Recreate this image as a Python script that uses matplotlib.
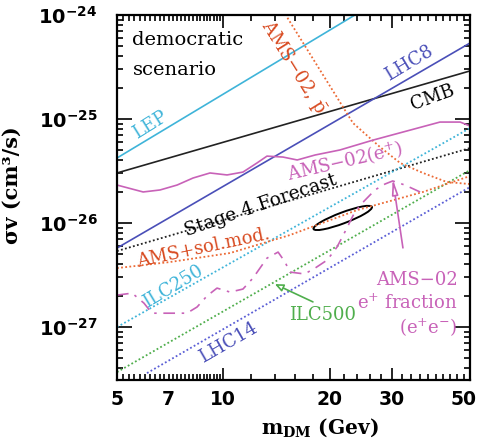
import numpy as np
import matplotlib.pyplot as plt
from matplotlib.patches import Ellipse
from matplotlib.ticker import FixedLocator, NullFormatter
from matplotlib.transforms import offset_copy

plt.rcParams['font.family'] = 'DejaVu Serif'
plt.rcParams['mathtext.fontset'] = 'custom'
plt.rcParams['mathtext.rm'] = 'DejaVu Serif'
plt.rcParams['mathtext.bf'] = 'DejaVu Sans:bold'
plt.rcParams['mathtext.sf'] = 'DejaVu Serif:bold'

# straight limits (mass in GeV, sigma v in cm^3/s)
lep_m = [5.0, 23.6]
lep_sv = [4.22e-26, 1.0e-24]
cmb_m = [5.0, 50.0]
cmb_sv = [3.03e-26, 2.90e-25]
lhc8_m = [5.0, 50.0]
lhc8_sv = [5.75e-27, 5.38e-25]
stage4_m = [5.0, 50.0]
stage4_sv = [5.38e-27, 5.26e-26]
ilc250_m = [5.0, 50.0]
ilc250_sv = [1.0e-27, 8.19e-26]
ilc500_m = [5.0, 50.0]
ilc500_sv = [3.69e-28, 3.23e-26]
lhc14_m = [6.08, 50.0]
lhc14_sv = [3.61e-28, 2.22e-26]

# antiproton limit
pbar_m = [15.2, 23.3, 27.8, 31.7, 36.8, 43.0, 50.0]
pbar_sv = [9.4e-25, 9.16e-26, 5.38e-26, 3.78e-26, 3.03e-26, 2.48e-26, 2.37e-26]

# AMS + solar modulation
solmod_m = [5.0, 7.06, 10.45, 15.45, 23.9, 36.8, 50.0]
solmod_sv = [3.69e-27, 4.22e-27, 5.15e-27, 7.67e-27, 1.33e-26, 1.99e-26, 2.83e-26]

# AMS-02 positron flux
epos_m = [5.0, 5.93, 6.62, 7.40, 8.21, 9.17, 10.25, 11.37, 12.46, 13.3,
          14.76, 16.2, 18.2, 21.4, 26.6, 33.1, 41.1, 46.9, 50.0]
epos_sv = [2.32e-26, 1.99e-26, 2.08e-26, 2.32e-26, 2.71e-26, 3.03e-26, 2.90e-26,
           3.09e-26, 3.78e-26, 4.40e-26, 4.31e-26, 4.04e-26, 4.51e-26, 5.04e-26,
           6.28e-26, 7.67e-26, 9.35e-26, 9.35e-26, 8.57e-26]

# AMS-02 positron fraction
efrac_m = [5.0, 5.52, 5.96, 6.28, 6.93, 7.89, 8.43, 8.99, 9.60, 10.45, 11.37,
           12.14, 13.3, 14.3, 14.96, 15.45, 17.0, 18.2, 19.7, 21.0, 22.1, 23.6,
           24.9, 26.9, 28.7, 30.2, 32.7, 36.1]
efrac_sv = [2.03e-27, 2.12e-27, 1.70e-27, 1.36e-27, 1.36e-27, 1.36e-27, 1.56e-27,
            1.99e-27, 2.37e-27, 2.17e-27, 2.32e-27, 2.96e-27, 4.60e-27, 5.26e-27,
            4.22e-27, 3.38e-27, 3.24e-27, 3.69e-27, 4.41e-27, 5.88e-27, 8.19e-27,
            1.28e-26, 1.59e-26, 2.08e-26, 2.37e-26, 2.54e-26, 2.32e-26, 1.99e-26]

# best-fit region
fit_m = 21.8
fit_sv = 1.12e-26

x_ticks = [5, 7, 10, 20, 30, 50]
x_labels = ['5', '7', '10', '20', '30', '50']
y_ticks = [1e-27, 1e-26, 1e-25, 1e-24]
y_labels = [r'$\mathbf{10^{-27}}$', r'$\mathbf{10^{-26}}$',
            r'$\mathbf{10^{-25}}$', r'$\mathbf{10^{-24}}$']

cyan = '#3fb4d9'
blue = '#4a4fb8'
orange = '#ec6a35'
orange_txt = '#d84a20'
magenta = '#c862b8'
green = '#4fae4c'
blue2 = '#5a5ed6'

fig = plt.figure(figsize=(4.79, 4.40), dpi=100)
ax = fig.add_axes([117 / 479, 60 / 440, 353 / 479, 365 / 440])
ax.set_xscale('log')
ax.set_yscale('log')

dots = (0, (1, 1.3))
ax.plot(lep_m, lep_sv, color=cyan, lw=1.2)
ax.plot(cmb_m, cmb_sv, color='#222222', lw=1.2)
ax.plot(lhc8_m, lhc8_sv, color=blue, lw=1.2)
ax.plot(stage4_m, stage4_sv, color='#222222', lw=1.3, ls=dots)
ax.plot(ilc250_m, ilc250_sv, color=cyan, lw=1.3, ls=dots)
ax.plot(ilc500_m, ilc500_sv, color=green, lw=1.3, ls=dots)
ax.plot(lhc14_m, lhc14_sv, color=blue2, lw=1.3, ls=dots)
ax.plot(pbar_m, pbar_sv, color=orange, lw=1.3, ls=dots)
ax.plot(solmod_m, solmod_sv, color=orange, lw=1.3, ls=dots)
ax.plot(epos_m, epos_sv, color=magenta, lw=1.2)
ax.plot(efrac_m, efrac_sv, color=magenta, lw=1.2, ls=(0, (7, 4, 1.5, 4)))

ax.set_xlim(5, 50)
ax.set_ylim(3.1e-28, 1e-24)

# fit ellipse in axes coordinates
fig.canvas.draw()
cx, cy = ax.transAxes.inverted().transform(ax.transData.transform((fit_m, fit_sv)))
ax.add_patch(Ellipse((cx, cy), 0.176, 0.03, angle=20, transform=ax.transAxes,
                     fill=False, ec='black', lw=1.4))

# ticks
ax.xaxis.set_major_locator(FixedLocator([5, 10, 20, 30, 50]))
minor_x = [v for v in np.concatenate([np.arange(5.2, 10, 0.2), np.arange(12, 50, 2)])
           if min(abs(v - t) for t in [10, 20, 30]) > 1e-6]
ax.xaxis.set_minor_locator(FixedLocator(minor_x))
ax.xaxis.set_major_formatter(NullFormatter())
ax.xaxis.set_minor_formatter(NullFormatter())
xt = ax.get_xaxis_transform()
for v, lab in zip(x_ticks, x_labels):
    tr = offset_copy(xt, fig=fig, x=-6 if v == 50 else 0, y=0, units='dots')
    ax.text(v, -0.028, lab, transform=tr, ha='center', va='top',
            family='DejaVu Sans', weight='bold', fontsize=13.5)

ax.yaxis.set_major_locator(FixedLocator(y_ticks))
ax.set_yticklabels(y_labels)
ax.yaxis.set_minor_locator(FixedLocator(
    [k * 10.0 ** e for e in range(-28, -24) for k in range(2, 10)]))
ax.yaxis.set_minor_formatter(NullFormatter())

ax.tick_params(which='both', direction='in', top=True, right=True, width=1.2)
ax.tick_params(which='major', length=9)
ax.tick_params(which='minor', length=4.5)
ax.tick_params(axis='y', which='major', labelsize=14, pad=14, length=11)
for s in ax.spines.values():
    s.set_linewidth(1.6)

ax.set_ylabel('σv (cm³/s)', fontsize=15, weight='bold')
ax.yaxis.set_label_coords(-0.27, 0.534)
ax.set_xlabel(r'$\mathsf{m_{DM}}$ (Gev)', fontsize=14.5, weight='bold')
ax.xaxis.set_label_coords(0.575, -0.1)

# labels
ta = ax.transAxes
ax.text(0.042, 0.932, 'democratic', transform=ta, fontsize=14, va='center')
ax.text(0.045, 0.849, 'scenario', transform=ta, fontsize=14, va='center')
ax.text(0.093, 0.699, 'LEP', transform=ta, fontsize=13, color=cyan,
        rotation=32, ha='center', va='center')
ax.text(0.501, 0.858, r'AMS−02, $\bar{\mathrm{p}}$', transform=ta, fontsize=13,
        color=orange_txt, rotation=-58, ha='center', va='center')
ax.text(0.827, 0.868, 'LHC8', transform=ta, fontsize=13, color=blue,
        rotation=31, ha='center', va='center')
ax.text(0.895, 0.773, 'CMB', transform=ta, fontsize=13, color='black',
        rotation=20, ha='center', va='center')
ax.text(0.646, 0.597, r'AMS−02($\mathrm{e^{+}}$)', transform=ta, fontsize=13,
        color=magenta, rotation=13, ha='center', va='center')
ax.text(0.408, 0.479, 'Stage 4 Forecast', transform=ta, fontsize=13.5, color='black',
        rotation=19, ha='center', va='center')
ax.text(0.246, 0.362, 'AMS+sol.mod.', transform=ta, fontsize=13, color=orange_txt,
        rotation=12, ha='center', va='center')
ax.text(0.159, 0.255, 'ILC250', transform=ta, fontsize=13, color=cyan,
        rotation=31, ha='center', va='center')
ax.text(0.314, 0.101, 'LHC14', transform=ta, fontsize=13, color=blue,
        rotation=30, ha='center', va='center')
ax.text(0.581, 0.178, 'ILC500', transform=ta, fontsize=13, color=green,
        ha='center', va='center')
ax.text(0.965, 0.205, 'AMS−02\n' + r'$\mathrm{e^{+}}$ fraction' + '\n' +
        r'($\mathrm{e^{+}e^{-}}$)', transform=ta, fontsize=13, color=magenta,
        ha='right', va='center', multialignment='right', linespacing=1.25)

ax.annotate('', xy=(14.0, 2.59e-27), xytext=(0.555, 0.214), textcoords='axes fraction',
            arrowprops=dict(arrowstyle='-|>,head_length=0.5,head_width=0.22',
                            color=green, fc='white', lw=1.2, shrinkA=0, shrinkB=0))
ax.annotate('', xy=(30.2, 2.65e-26), xytext=(0.81, 0.362), textcoords='axes fraction',
            arrowprops=dict(arrowstyle='-|>,head_length=0.9,head_width=0.18',
                            color=magenta, fc='white', lw=1.2, shrinkA=0, shrinkB=0))

fig.savefig('out.png', dpi=100)
